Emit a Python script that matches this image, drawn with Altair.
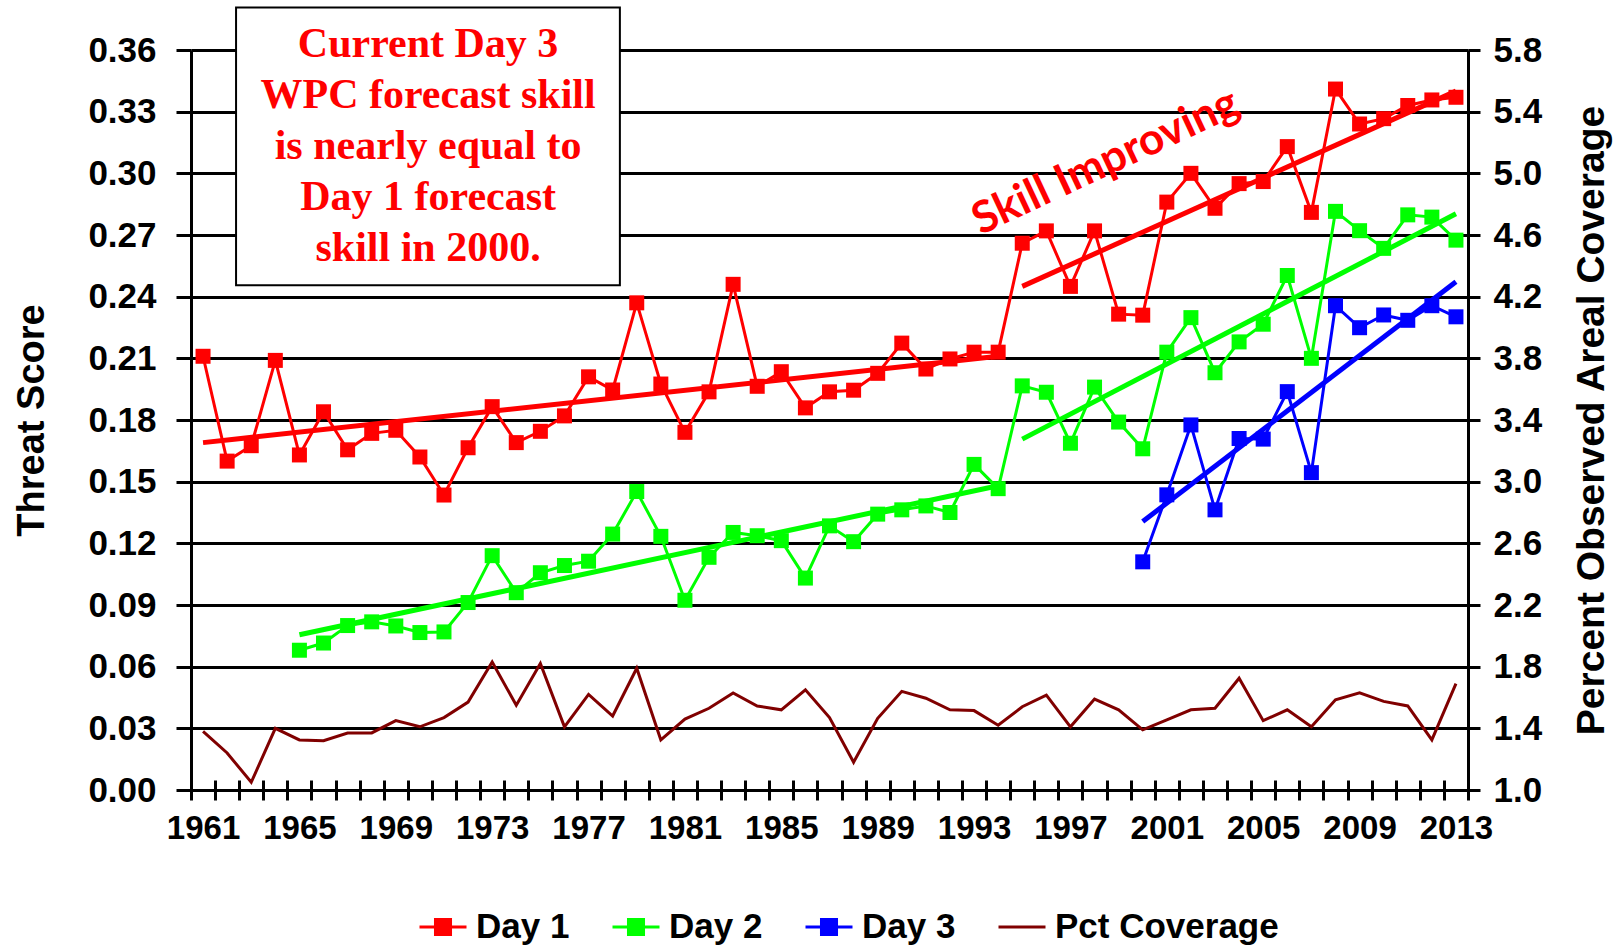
import altair as alt
import pandas as pd

FONT = "Liberation Sans"

# ---------------- data ----------------
years = list(range(1961, 2014))
day1 = [0.211, 0.160, 0.1675, 0.209, 0.163, 0.184, 0.1655, 0.1735, 0.175, 0.162,
        0.1435, 0.1665, 0.1865, 0.169, 0.1745, 0.182, 0.201, 0.1946, 0.237, 0.1975,
        0.174, 0.1937, 0.246, 0.1964, 0.2035, 0.1859, 0.1937, 0.1945, 0.2027, 0.2174,
        0.2048, 0.2097, 0.213, 0.213, 0.266, 0.272, 0.245, 0.272, 0.2315, 0.231,
        0.286, 0.300, 0.283, 0.295, 0.296, 0.313, 0.281, 0.341, 0.324, 0.3266,
        0.333, 0.3357, 0.337]

day2_years = list(range(1965, 2014))
day2 = [0.068, 0.0715, 0.080, 0.0818, 0.0798, 0.0766, 0.0769, 0.0912, 0.114, 0.096,
        0.1057, 0.1092, 0.1113, 0.1245, 0.1452, 0.1234, 0.0923, 0.1132, 0.1253, 0.1237,
        0.1213, 0.1031, 0.1285, 0.1208, 0.1342, 0.1363, 0.1382, 0.135, 0.1584, 0.1466,
        0.1966, 0.1935, 0.1687, 0.196, 0.179, 0.166, 0.213, 0.2298, 0.203, 0.218,
        0.2266, 0.2503, 0.210, 0.2815, 0.2721, 0.2635, 0.2798, 0.2787, 0.2675]

day3_years = list(range(2000, 2014))
day3 = [0.111, 0.1436, 0.1776, 0.1363, 0.171, 0.1707, 0.1938, 0.1544, 0.2356, 0.2249,
        0.2311, 0.2285, 0.2356, 0.2302]

pct = [1.38, 1.24, 1.05, 1.40, 1.325, 1.32, 1.37, 1.37, 1.45, 1.41,
       1.47, 1.57, 1.83, 1.55, 1.82, 1.41, 1.62, 1.48, 1.79, 1.325,
       1.46, 1.53, 1.63, 1.545, 1.52, 1.65, 1.47, 1.18, 1.465, 1.64,
       1.595, 1.52, 1.515, 1.42, 1.54, 1.615, 1.41, 1.59, 1.52, 1.39,
       1.455, 1.52, 1.53, 1.725, 1.45, 1.52, 1.41, 1.585, 1.63, 1.575,
       1.545, 1.325, 1.69]

# trend segments
trend_series = ["Day 1", "Day 1", "Day 2", "Day 2", "Day 3"]
trend_start_year = [1961, 1995, 1965, 1995, 2000]
trend_end_year = [1994, 2013, 1994, 2013, 2013]
trend_start_val = [0.169, 0.245, 0.0755, 0.1707, 0.1306]
trend_end_val = [0.211, 0.340, 0.148, 0.2803, 0.2473]

series_names = ["Day 1", "Day 2", "Day 3", "Pct Coverage"]
series_colors = ["#FF0000", "#00FF00", "#0000FF", "#800000"]

left_ticks = [0.00, 0.03, 0.06, 0.09, 0.12, 0.15, 0.18, 0.21, 0.24, 0.27, 0.30, 0.33, 0.36]
right_ticks = [1.0, 1.4, 1.8, 2.2, 2.6, 3.0, 3.4, 3.8, 4.2, 4.6, 5.0, 5.4, 5.8]
x_label_years = [1961, 1965, 1969, 1973, 1977, 1981, 1985, 1989, 1993, 1997, 2001, 2005, 2009, 2013]
x_tick_bounds = [y - 0.5 for y in range(1961, 2015)]

box_text = "Current Day 3\nWPC forecast skill\nis nearly equal to\nDay 1 forecast\nskill in 2000."
box_x = [1962.37, 1978.3]
box_y = [0.2455, 0.3807]
box_text_pos = [1970.34, 0.3627]
skill_text = "Skill Improving"
skill_text_pos = [1998.47, 0.3053]

# ---------------- scales / axes ----------------
xscale = alt.Scale(domain=[1960.5, 2013.5], nice=False, zero=False)
yscale = alt.Scale(domain=[0, 0.36], nice=False, zero=False)
yscale_r = alt.Scale(domain=[1.0, 5.8], nice=False, zero=False)

xaxis = alt.Axis(values=x_label_years, format="d", ticks=False, grid=False,
                 domain=True, domainColor="black", domainWidth=3,
                 labelFont=FONT, labelFontSize=33, labelFontWeight="bold",
                 labelColor="black", labelPadding=22, title=None,
                 labelFlush=False, labelOverlap=False)
yaxis = alt.Axis(values=left_ticks, format=".2f", grid=True, gridColor="black",
                 gridWidth=3, gridOpacity=1, tickSize=15, tickWidth=3,
                 tickColor="black", domainColor="black", domainWidth=3,
                 labelFont=FONT, labelFontSize=35, labelFontWeight="bold",
                 labelColor="black", labelPadding=20, labelOverlap=False,
                 title="Threat Score", titleFont=FONT, titleFontSize=38,
                 titleFontWeight="bold", titleColor="black", titleAngle=270,
                 titleX=-159, titleY=370, titleBaseline="middle", titleAlign="center")


def X(f):
    return alt.X(f, type="quantitative", scale=xscale, axis=xaxis)


def Y(f):
    return alt.Y(f, type="quantitative", scale=yscale, axis=yaxis)


series_data = [
    (pd.DataFrame({"year": years, "value": day1}), series_colors[0], "Day 1"),
    (pd.DataFrame({"year": day2_years, "value": day2}), series_colors[1], "Day 2"),
    (pd.DataFrame({"year": day3_years, "value": day3}), series_colors[2], "Day 3"),
]

trend_rows = []
for i, s in enumerate(trend_series):
    trend_rows.append({"series": s, "seg": i, "year": trend_start_year[i], "value": trend_start_val[i]})
    trend_rows.append({"series": s, "seg": i, "year": trend_end_year[i], "value": trend_end_val[i]})
trend_df = pd.DataFrame(trend_rows)

layers = []
# annotation box
box_df = pd.DataFrame({"x": [box_x[0]], "x2": [box_x[1]], "y": [box_y[0]], "y2": [box_y[1]]})
layers.append(alt.Chart(box_df).mark_rect(fill="white", stroke="black", strokeWidth=2).encode(
    x=X("x"), x2="x2", y=Y("y"), y2="y2"))

for df, c, name in series_data:
    layers.append(alt.Chart(df).mark_line(color=c, strokeWidth=3).encode(x=X("year"), y=Y("value")))
for df, c, name in series_data:
    layers.append(alt.Chart(df).mark_point(shape="square", filled=True, size=225, color=c, opacity=1)
                  .encode(x=X("year"), y=Y("value")))
for df, c, name in series_data:
    tdf = trend_df[trend_df["series"] == name]
    layers.append(alt.Chart(tdf).mark_line(color=c, strokeWidth=5).encode(
        x=X("year"), y=Y("value"), detail="seg:N"))

# texts
layers.append(alt.Chart(pd.DataFrame({"x": [box_text_pos[0]], "y": [box_text_pos[1]], "t": [box_text]}))
              .mark_text(font="Liberation Serif", fontSize=42, fontWeight="bold", color="#FF0000",
                         lineBreak="\n", lineHeight=51, align="center", baseline="middle")
              .encode(x=X("x"), y=Y("y"), text="t:N"))
layers.append(alt.Chart(pd.DataFrame({"x": [skill_text_pos[0]], "y": [skill_text_pos[1]], "t": [skill_text]}))
              .mark_text(font="Lato", fontSize=44, fontWeight="bold", color="#FF0000",
                         angle=335, align="center", baseline="middle")
              .encode(x=X("x"), y=Y("y"), text="t:N"))

# legend helper layer
sq_path = "M-1,0H1M-0.32,-0.32H0.32V0.32H-0.32Z"
ln_path = "M-1,0H1"
legend = alt.Legend(title=None, orient="none", legendX=227, legendY=852, direction="horizontal",
                    labelFont=FONT, labelFontSize=35, labelFontWeight="bold", labelColor="black",
                    labelLimit=500, symbolSize=2209, symbolStrokeWidth=3, symbolOpacity=1,
                    labelOffset=8, columnPadding=36, padding=0)
leg_df = pd.DataFrame({"series": series_names})
layers.append(alt.Chart(leg_df).mark_point(filled=True, opacity=0).encode(
    color=alt.Color("series:N", scale=alt.Scale(domain=series_names, range=series_colors),
                    legend=legend, sort=series_names),
    stroke=alt.Stroke("series:N", scale=alt.Scale(domain=series_names, range=series_colors),
                      legend=legend, sort=series_names),
    shape=alt.Shape("series:N", scale=alt.Scale(domain=series_names,
                                                 range=[sq_path, sq_path, sq_path, ln_path]),
                    legend=legend, sort=series_names),
))

left = alt.layer(*layers)

pct_df = pd.DataFrame({"year": years, "pct": pct})
right = alt.Chart(pct_df).mark_line(color="#800000", strokeWidth=3).encode(
    x=alt.X("year:Q", scale=xscale,
            axis=alt.Axis(values=x_tick_bounds, orient="bottom", offset=-10, tickSize=20,
                          tickWidth=3, tickColor="black", labels=False, domain=False,
                          grid=False, title=None)),
    y=alt.Y("pct:Q", scale=yscale_r,
            axis=alt.Axis(orient="right", values=right_ticks, format=".1f", tickSize=12,
                          tickWidth=3, tickColor="black", domainColor="black", domainWidth=3,
                          grid=False, labelFont=FONT, labelFontSize=35, labelFontWeight="bold",
                          labelColor="black", labelPadding=13, labelOverlap=False,
                          title="Percent Observed Areal Coverage", titleFont=FONT,
                          titleFontSize=39, titleFontWeight="bold", titleColor="black",
                          titleAngle=270, titleX=123, titleY=370, titleBaseline="middle",
                          titleAlign="center")),
)

chart = (
    alt.layer(left, right)
    .resolve_scale(y="independent")
    .resolve_axis(x="independent")
    .properties(width=1277, height=740,
                padding={"left": 191, "top": 50, "right": 150, "bottom": 156},
                autosize=alt.AutoSizeParams(type="none"), background="white")
    .configure(font=FONT)
    .configure_view(stroke=None)
)

chart.save("out.html", embed_options={"renderer": "svg", "actions": False})
